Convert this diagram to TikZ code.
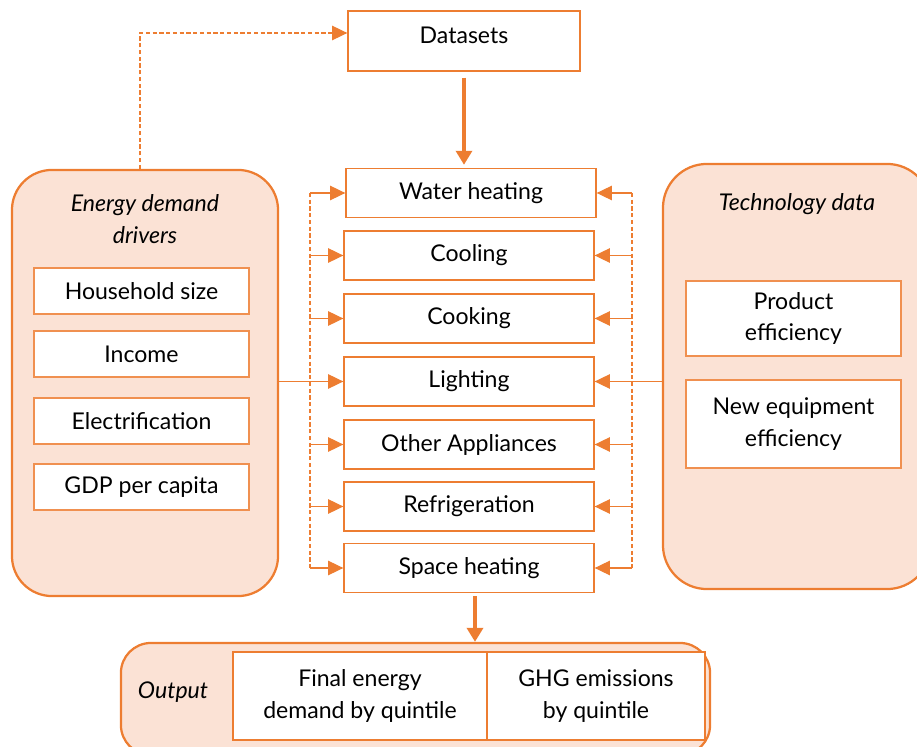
\documentclass[tikz,border=0pt]{standalone}
\usepackage{fontspec}
\setmainfont{Lato}
\usetikzlibrary{arrows.meta,positioning,calc}

\begin{document}
\begin{tikzpicture}[x=0.025cm, y=-0.025cm,
        every node/.style={font=\fontsize{16.4}{22.3}\selectfont, text=black},
        panel/.style={draw=hdxorange, fill=hdxpeach, line width=1.6pt},
        usebox/.style={draw=hdxorange, fill=white, line width=0.9pt, minimum width=6.25cm, minimum height=1.22cm, inner sep=0pt},
        itembox/.style={draw=hdxorange!85, fill=white, line width=0.9pt, minimum width=5.375cm, inner sep=0pt, align=center},
        flow/.style={-{Triangle[length=3.8mm, width=3.6mm]}, hdxorange, line width=0.9pt},
        bigflow/.style={-{Triangle[length=3.5mm, width=4mm]}, hdxorange, line width=2.4pt},
        bus/.style={hdxorange, line width=0.9pt, dash pattern=on 3pt off 1.8pt}]
        \definecolor{hdxorange}{RGB}{237,125,49}
        \definecolor{hdxpeach}{RGB}{251,226,213}

        \useasboundingbox (0,0) rectangle (917,747);

        % Datasets box
        \node[draw=hdxorange, fill=white, line width=0.9pt, minimum width=5.8cm, minimum height=1.5cm, text depth=0.3cm] (data) at (464,41) {Datasets};

        % Energy demand drivers panel
        \node[panel, rounded corners=1cm, minimum width=6.65cm, minimum height=10.65cm] (drivers) at (145,383) {};
        \node[font=\fontsize{16.4}{22.3}\selectfont\itshape, align=center] (drvtitle) at (145,219) {Energy demand\\drivers};
        \node[itembox, minimum height=1.15cm] (hhsize) at (141.5,291) {Household size};
        \node[itembox, minimum height=1.15cm] (income) at (141.5,354) {Income};
        \node[itembox, minimum height=1.15cm] (elec) at (141.5,421) {Electrification};
        \node[itembox, minimum height=1.15cm] (gdp) at (141.5,487) {GDP per capita};

        % Technology data panel
        \node[panel, rounded corners=1.1cm, minimum width=6.7cm, minimum height=10.625cm] (tech) at (797,376.5) {};
        \node[font=\fontsize{16.4}{22.3}\selectfont\itshape] (techtitle) at (797,204) {Technology data};
        \node[itembox, minimum height=1.875cm] (prodeff) at (793.5,318.5) {Product\\efficiency};
        \node[itembox, minimum height=2.2cm] (neweff) at (793.5,424) {New equipment\\efficiency};

        % End uses
        \node[usebox] (water) at (471,193) {Water heating};
        \node[usebox] (cool) at (469,255.5) {Cooling};
        \node[usebox] (cook) at (469,318.5) {Cooking};
        \node[usebox] (light) at (469,381.5) {Lighting};
        \node[usebox] (other) at (469,444.5) {Other Appliances};
        \node[usebox] (fridge) at (469,506.5) {Refrigeration};
        \node[usebox] (space) at (469,568) {Space heating};

        % Output panel
        \node[panel, rounded corners=0.75cm, minimum width=14.725cm, minimum height=2.8cm] (outp) at (415.5,699) {};
        \node[font=\fontsize{16.4}{22.3}\selectfont\itshape] (outtitle) at (173,692) {Output};
        \node[itembox, draw=hdxorange, minimum width=6.35cm, minimum height=2.2cm] (finalE) at (360,696) {Final energy\\demand by quintile};
        \node[itembox, draw=hdxorange, minimum width=5.45cm, minimum height=2.2cm] (ghg) at (596,696) {GHG emissions\\by quintile};

        % Bus lines
        \coordinate (lbus) at (310,0);
        \coordinate (rbus) at (632,0);
        \coordinate (dbend) at (140,33);
        \draw[bus] (lbus |- water.west) -- (lbus |- space.west);
        \draw[bus] (rbus |- water.east) -- (rbus |- space.east);

        % Arrows
        \draw[bus, flow] (drivers.north -| dbend) -- (dbend) -- (data.west |- dbend);
        \draw[bigflow, shorten <=0.15cm, shorten >=0.08cm] (data.south) -- (data.south |- water.north);
        \draw[bigflow, shorten <=0.08cm] ([xshift=0.15cm]space.south) -- ([xshift=0.15cm]space.south |- outp.north);
        \draw[flow] (lbus |- water.west) -- (water.west);
        \draw[flow] (lbus |- cool.west) -- (cool.west);
        \draw[flow] (lbus |- cook.west) -- (cook.west);
        \draw[flow] (drivers.east |- light.west) -- (light.west);
        \draw[flow] (lbus |- other.west) -- (other.west);
        \draw[flow] (lbus |- fridge.west) -- (fridge.west);
        \draw[flow] (lbus |- space.west) -- (space.west);
        \draw[flow] (rbus |- water.east) -- (water.east);
        \draw[flow] (rbus |- cool.east) -- (cool.east);
        \draw[flow] (rbus |- cook.east) -- (cook.east);
        \draw[flow] (tech.west |- light.east) -- (light.east);
        \draw[flow] (rbus |- other.east) -- (other.east);
        \draw[flow] (rbus |- fridge.east) -- (fridge.east);
        \draw[flow] (rbus |- space.east) -- (space.east);
    \end{tikzpicture}
\end{document}
